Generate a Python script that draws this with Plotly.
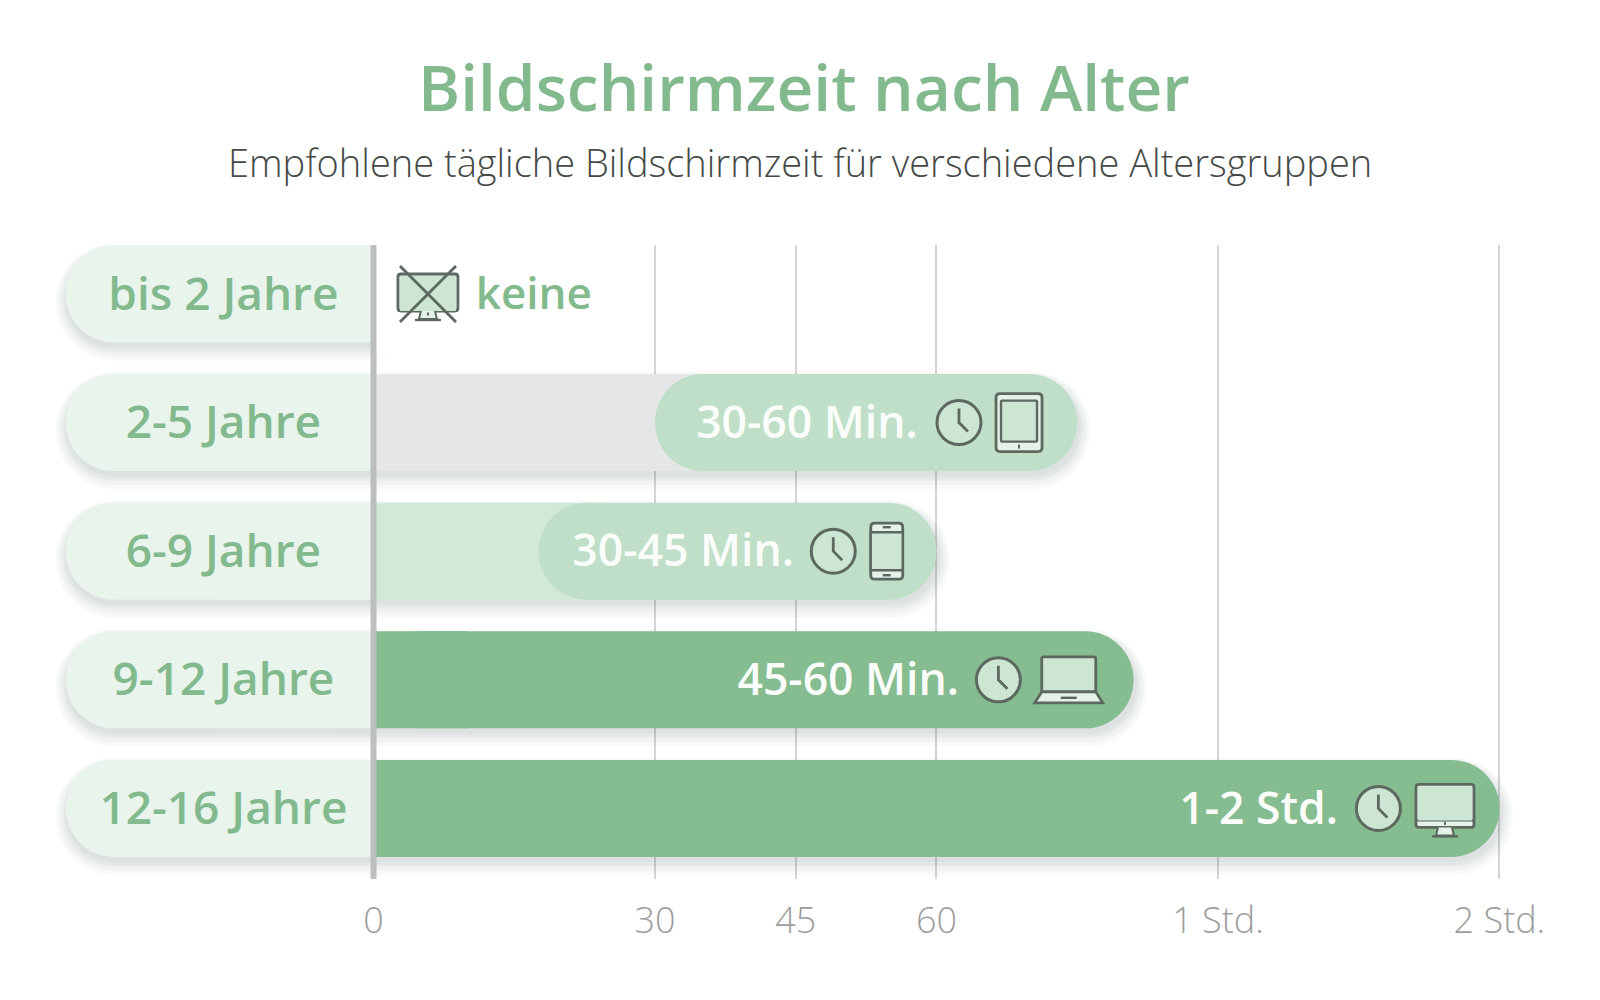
import plotly.graph_objects as go

ages = ["bis 2 Jahre", "2-5 Jahre", "6-9 Jahre", "9-12 Jahre", "12-16 Jahre"]
rows = [0, 1, 2, 3, 4]
age_label_x = [-16.0, -16.0, -16.0, -16.0, -16.0]
label_start = [-32.8, -32.8, -32.8, -32.8, -32.8]

value_labels = ["keine", "30-60 Min.", "30-45 Min.", "45-60 Min.", "1-2 Std."]
value_label_x = [10.9, 58.0, 44.8, 62.4, 102.8]

track_end = [0, 36, 25, 0, 0]
pill_start = [0, 30, 17.6, 0, 0]
pill_end = [0, 75, 60, 81, 120]
square_start = [0, 0, 0, 10, 10]

clock_x = [None, 62.4, 49.0, 66.6, 107.1]
device_x = [5.8, 68.8, 54.7, 74.1, 114.2]
devices = ["off", "tablet", "phone", "laptop", "monitor"]

tick_vals = [0, 30, 45, 60, 90, 120]
tick_text = ["0", "30", "45", "60", "1 Std.", "2 Std."]

GREEN = "#85bc90"
PILL_LIGHT = "#c0dfc8"
LABEL_BG = "#e8f4ec"
TRACK = ["#e5e6e8", "#e5e6e8", "#d2e8d9", "#d2e8d9", "#d2e8d9"]
INK = "#5d6861"
SCREEN = "#cde6d4"
FONT = "Open Sans"
BAR_W = 0.754
PX_X = 9.382
PX_Y = 128.6
TEXT_Y = [r + 4 / PX_Y for r in rows]

fig = go.Figure()


def add_bar(x, base, color, width=BAR_W, y=rows, radius=48):
    fig.add_trace(go.Bar(y=y, x=x, base=base, orientation="h", width=width,
                         marker=dict(color=color, cornerradius=radius, line_width=0),
                         showlegend=False, hoverinfo="skip"))


# soft shadow, a few see-through layers under the bars
for grow, drop in [(10, 8), (7, 7), (4, 6), (2, 6), (0, 5)]:
    shadow_y = [r + drop / PX_Y for r in rows]
    w = BAR_W + 2 * grow / PX_Y
    shade = "rgba(70,80,72,0.035)"
    # row 0 runs past the axis here, the white piece below cuts it off flat
    add_bar([e + (grow + 3) / PX_X - s + grow / PX_X if e else 8 - s for s, e in zip(label_start, pill_end)],
            [s - grow / PX_X for s in label_start], shade, w, shadow_y, 48 + grow)
add_bar([9], 0, "white", 0.98, [0.02], 0)

# one round bar each, with a square piece over the end that has to stay flat
add_bar(label_start, 0, LABEL_BG)
add_bar([s / 2 for s in label_start], 0, LABEL_BG, radius=0)
add_bar(track_end, 0, TRACK, radius=0)
pill_colors = [PILL_LIGHT, PILL_LIGHT, PILL_LIGHT, GREEN, GREEN]
add_bar([e - s for s, e in zip(pill_start, pill_end)], pill_start, pill_colors)
add_bar(square_start, 0, GREEN, radius=0)

fig.add_trace(go.Scatter(x=age_label_x, y=TEXT_Y, mode="text", text=ages, textposition="middle center",
                         textfont=dict(family=FONT, size=46, color="#82ba8e", weight=600),
                         showlegend=False, hoverinfo="skip"))
fig.add_trace(go.Scatter(x=value_label_x[1:], y=TEXT_Y[1:], mode="text", text=value_labels[1:],
                         textposition="middle left",
                         textfont=dict(family=FONT, size=44.5, color="#fbfdfb", weight=600),
                         showlegend=False, hoverinfo="skip"))
fig.add_trace(go.Scatter(x=value_label_x[:1], y=TEXT_Y[:1], mode="text", text=value_labels[:1],
                         textposition="middle right",
                         textfont=dict(family=FONT, size=44, color="#82ba8e", weight=600),
                         showlegend=False, hoverinfo="skip"))


def rr(x0, y0, x1, y1, r):
    # rounded rectangle, y given downwards from the anchor
    y0, y1 = -y0, -y1
    return (f"M{x0 + r},{y0} L{x1 - r},{y0} Q{x1},{y0} {x1},{y0 - r} L{x1},{y1 + r} "
            f"Q{x1},{y1} {x1 - r},{y1} L{x0 + r},{y1} Q{x0},{y1} {x0},{y1 + r} "
            f"L{x0},{y0 - r} Q{x0},{y0} {x0 + r},{y0} Z")


def poly(*pts, close=False):
    d = "M" + " L".join(f"{x},{-y}" for x, y in pts)
    return d + " Z" if close else d


def px_shape(x, row, path, fill=None, width=2.8, color=INK):
    return dict(type="path", xref="x", yref="y", xsizemode="pixel", ysizemode="pixel",
                xanchor=x, yanchor=row, path=path, fillcolor=fill or "rgba(0,0,0,0)",
                line=dict(color=color, width=width))


def clock(x, row):
    circle = dict(type="circle", xref="x", yref="y", xsizemode="pixel", ysizemode="pixel",
                  xanchor=x, yanchor=row, x0=-22, x1=22, y0=-22, y1=22,
                  fillcolor=SCREEN, line=dict(color=INK, width=3))
    return [circle, px_shape(x, row, poly((0, -14), (0, 0), (9, 9)))]


def monitor(x, row, w=29, top=-24, chin=12, bottom=19):
    return [
        px_shape(x, row, rr(-w, top, w, bottom, 3), "#e4f2e8"),
        px_shape(x, row, poly((-w, chin), (w, chin)), width=2),
        px_shape(x, row, rr(-w + 2, top + 2, w - 2, chin, 1), SCREEN, width=0),
        px_shape(x, row, poly((-7, bottom), (-9, bottom + 8), (9, bottom + 8), (7, bottom)), "#e4f2e8", 2),
        px_shape(x, row, poly((-13, bottom + 9), (13, bottom + 9)), width=2.4),
        px_shape(x, row, poly((-1, chin + 3), (1, chin + 3)), width=3),
    ]


def device(kind, x, row):
    if kind == "off":
        return monitor(x, row, 30, -20, 17, 17) + [
            px_shape(x, row, poly((-28, -28), (28, 28))),
            px_shape(x, row, poly((28, -28), (-28, 28))),
        ]
    if kind == "monitor":
        return monitor(x, row)
    if kind == "tablet":
        return [
            px_shape(x, row, rr(-23, -29, 23, 29, 4), "#e4f2e8"),
            px_shape(x, row, rr(-18, -22, 18, 19, 1), SCREEN, 2.4),
            px_shape(x, row, poly((-1, 24), (1, 24)), width=4),
        ]
    if kind == "phone":
        return [
            px_shape(x, row, rr(-16, -28, 16, 28, 4), "#e4f2e8"),
            px_shape(x, row, rr(-16, -19, 16, 19, 0), SCREEN, 2.4),
            px_shape(x, row, poly((-4, -24), (4, -24)), width=2.4),
            px_shape(x, row, poly((-4, 24), (4, 24)), width=2.4),
        ]
    return [
        px_shape(x, row, rr(-27, -23, 27, 12, 2), SCREEN),
        px_shape(x, row, poly((-27, 12), (27, 12), (34, 23), (-34, 23), close=True), "#e4f2e8"),
        px_shape(x, row, poly((-8, 18), (8, 18)), width=2.4),
    ]


shapes = []
for r in rows:
    if clock_x[r] is not None:
        shapes += clock(clock_x[r], r)
    shapes += device(devices[r], device_x[r], r)
# the zero axis sits on top of the bars
shapes.append(dict(type="line", xref="x", yref="paper", x0=0, x1=0, y0=0, y1=1,
                   line=dict(color="#bdbfbe", width=6)))

# the page has an 8px body margin, so the figure is kept 16px smaller than the window
fig.update_layout(
    width=1584, height=984,
    barmode="overlay",
    plot_bgcolor="white", paper_bgcolor="white",
    margin=dict(l=0, r=0, t=237, b=113),
    title=dict(text="Bildschirmzeit nach Alter", x=0.5025, xanchor="center", y=0.9177, yanchor="middle",
               font=dict(family=FONT, size=64, color="#82ba8e", weight=600)),
    annotations=[dict(text="Empfohlene tägliche Bildschirmzeit für verschiedene Altersgruppen",
                      x=0.5, xref="paper", xanchor="center", y=1.131, yref="paper", yanchor="middle",
                      showarrow=False, font=dict(family=FONT, size=38, color="#454a47", weight=300))],
    xaxis=dict(range=[-38.96, 129.87], tickvals=tick_vals, ticktext=tick_text,
               showgrid=True, gridcolor="#d4d5d5", gridwidth=1.6, zeroline=False, showline=False,
               ticks="", ticklabelstandoff=17, tickfont=dict(family=FONT, size=36, color="#9c9e9d", weight=300)),
    yaxis=dict(range=[4.549, -0.381], visible=False),
    shapes=shapes,
)

fig.write_html("out.html")
